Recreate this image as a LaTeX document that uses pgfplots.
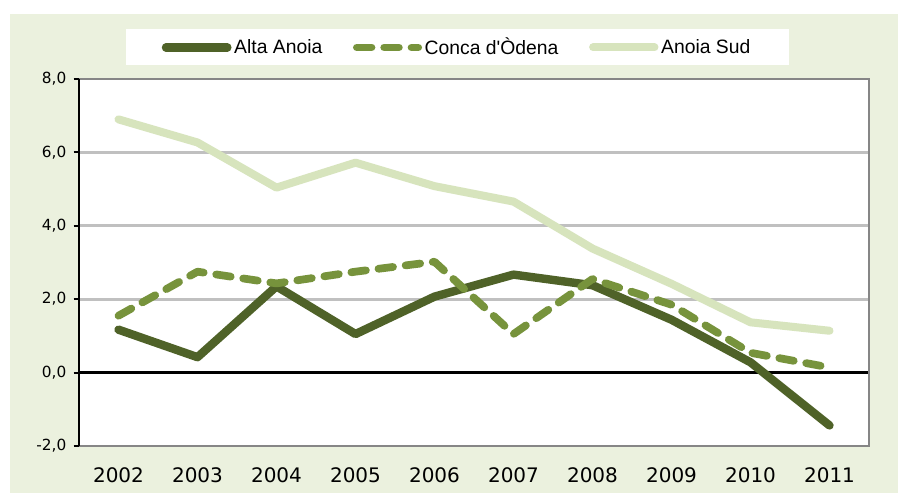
\documentclass[border=0pt]{standalone}
\usepackage{fontspec}
\setmainfont{DejaVu Sans}
\newfontfamily\legfont{Liberation Sans}
\usepackage{pgfplots}
\usepackage{pgfplotstable}
\pgfplotsset{compat=1.18}
\definecolor{bg}{HTML}{EBF1DE}
\definecolor{c1}{HTML}{4F6228}
\definecolor{c2}{HTML}{77933C}
\definecolor{c3}{HTML}{D7E4BD}
\definecolor{gridc}{HTML}{C0C0C0}
\definecolor{borderc}{HTML}{868686}

\pgfplotstableread{
x  alta  conca  sud
0  1.17  1.55   6.90
1  0.42  2.75   6.27
2  2.35  2.43   5.04
3  1.05  2.75   5.72
4  2.07  3.02   5.08
5  2.67  1.05   4.66
6  2.38  2.55   3.38
7  1.44  1.85   2.42
8  0.28  0.54   1.37
9  -1.44 0.14   1.14
}\datatable

\begin{document}
\begin{tikzpicture}
\path (0pt,0pt) rectangle (673.5pt,369.75pt);
\fill[bg] (7.5pt,0pt) rectangle (673.5pt,359.25pt);
\begin{axis}[
  at={(59.25pt,35.25pt)}, anchor=south west,
  scale only axis, width=592.5pt, height=275.25pt,
  xmin=-0.5, xmax=9.5, ymin=-2, ymax=8,
  axis background/.style={fill=white},
  axis line style={draw=none},
  xtick={0,...,9},
  xticklabels={2002,2003,2004,2005,2006,2007,2008,2009,2010,2011},
  ytick={-2,2,4,6,8},
  yticklabels={-2{,}0,2{,}0,4{,}0,6{,}0,8{,}0},
  extra y ticks={0},
  extra y tick labels={0{,}0},
  extra y tick style={grid style={black, line width=2pt}},
  ymajorgrids,
  grid style={gridc, line width=2pt},
  xtick style={draw=none},
  ytick style={black, line width=1.5pt},
  ytick pos=left,
  tick align=outside,
  major tick length=4pt,
  xticklabel style={font=\fontsize{15}{17}\selectfont, yshift=-8.5pt},
  yticklabel style={font=\fontsize{11.5}{13}\selectfont, xshift=-2pt},
  clip=false,
  legend style={at={(0.479,1.086)}, anchor=center, fill=white, draw=none,
    legend columns=3, font=\legfont\fontsize{14.5}{16}\selectfont,
    inner xsep=27pt, inner ysep=4.5pt,
    /tikz/every even column/.append style={column sep=21pt}},
  legend image code/.code={\draw[#1] (0pt,0pt) -- (46pt,0pt);},
]
\addplot[c1, line width=6.3pt, line join=round, line cap=round] table[x=x,y=alta] {\datatable};
\addlegendentry{Alta Anoia}
\addplot[c2, line width=5.8pt, line join=round, line cap=round, dash pattern=on 11pt off 9.5pt] table[x=x,y=conca] {\datatable};
\addlegendentry{Conca d'Òdena}
\addplot[c3, line width=6pt, line join=round, line cap=round] table[x=x,y=sud] {\datatable};
\addlegendentry{Anoia Sud}
\draw[borderc, line width=2pt] (rel axis cs:0,0) -- (rel axis cs:1,0) -- (rel axis cs:1,1) -- (rel axis cs:0,1);
\draw[black, line width=2pt] (rel axis cs:0,0) -- (rel axis cs:0,1);
\end{axis}
\end{tikzpicture}
\end{document}
